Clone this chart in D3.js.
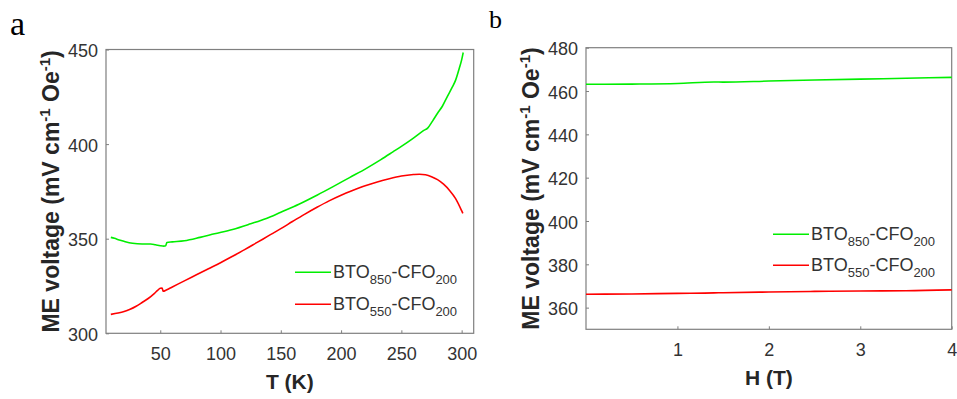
<!DOCTYPE html>
<html><head><meta charset="utf-8">
<script src="https://cdn.jsdelivr.net/npm/d3@7"></script>
<style>
body{margin:0;background:#fff;}
svg{display:block;font-family:"Liberation Sans",Arial,Helvetica,sans-serif;}
</style>
</head><body>
<svg id="chart" width="957" height="399"></svg>
<script>
// ---- Panel a data: ME voltage vs temperature ----
const tempK850 = [9,12,16,20,27,35,42,46,50,53,54.5,55.5,60,70,83,95,110,125,138,150,165,180,193,207,221,233,243,250,260,268,272,276,280,284,288,292,295,298,300,301.3];
const volt850T = [350.7,350.2,349.3,348.6,347.6,347.2,347.2,346.8,346.3,346.1,346.3,348,348.3,348.9,350.7,352.6,354.9,357.9,360.7,364,368.2,373,377.4,382.3,387.2,391.8,395.9,398.8,403.2,407,408.6,412.3,416.3,420,425,429.8,433.8,440,444.5,448.4];
const tempK550 = [9,15,20,25,30,35,40,45,48,50,51.5,52.5,55,60,70,80,90,100,110,120,130,140,150,160,170,180,190,200,210,220,230,240,250,260,265,270,275,280,285,290,295,300,301];
const volt550T = [310,310.7,311.5,312.7,314.3,316.3,318.4,321,322.8,323.8,323.9,322.2,322.9,324.5,327.7,330.9,334.1,337.3,340.7,344.2,347.9,351.6,355.3,359.2,363,366.6,370,373,375.6,378,380,381.7,383.1,383.9,384.1,383.8,382.8,381.2,378.8,375.5,371.2,364.8,363.4];
const tempTicks = [50,100,150,200,250,300];
const voltTicksA = [300,350,400,450];

// ---- Panel b data: ME voltage vs magnetic field ----
const fieldT = [0,0.5,1,1.4,1.5,2,2.5,3,3.5,4];
const volt850H = [463.1,463.2,463.5,464.2,464.1,464.6,465.1,465.5,465.9,466.3];
const volt550H = [366.2,366.3,366.6,366.8,366.9,367.2,367.5,367.7,367.8,368.2];
const fieldTicks = [1,2,3,4];
const voltTicksB = [360,380,400,420,440,460,480];

const seriesNames = [["850","200"],["550","200"]];
const seriesColors = ["#00ee00","#ff0000"];

const svg = d3.select("#chart");

function subLabel(sel, sub1, sub2){
  sel.append("tspan").text("BTO");
  sel.append("tspan").attr("font-size",13).attr("dy",6).text(sub1);
  sel.append("tspan").attr("dy",-6).text("-CFO");
  sel.append("tspan").attr("font-size",13).attr("dy",6).text(sub2);
}

function panel(cfg){
  const g = svg.append("g");
  const x = d3.scaleLinear().domain(cfg.xdom).range([cfg.left, cfg.right]);
  const y = d3.scaleLinear().domain(cfg.ydom).range([cfg.bottom, cfg.top]);

  const xa = g.append("g").attr("transform",`translate(0,${cfg.bottom})`)
    .call(d3.axisBottom(x).tickValues(cfg.xticks).tickFormat(d3.format("d")).tickSize(-3).tickPadding(14));
  xa.select(".domain").remove();
  xa.selectAll("line").attr("stroke","#7f7f7f");
  xa.selectAll("text").attr("font-size",18).attr("fill","#333").attr("font-family",null);

  const ya = g.append("g").attr("transform",`translate(${cfg.left},0)`)
    .call(d3.axisLeft(y).tickValues(cfg.yticks).tickFormat(d3.format("d")).tickSize(-3).tickPadding(8));
  ya.select(".domain").remove();
  ya.selectAll("line").attr("stroke","#7f7f7f");
  ya.selectAll("text").attr("font-size",18).attr("fill","#333").attr("font-family",null).attr("dy","0.4em");

  g.append("rect").attr("x",cfg.left).attr("y",cfg.top)
    .attr("width",cfg.right-cfg.left).attr("height",cfg.bottom-cfg.top)
    .attr("fill","none").attr("stroke","#7f7f7f").attr("stroke-width",1.2);

  const line = d3.line().x(d=>x(d[0])).y(d=>y(d[1])).curve(d3.curveMonotoneX);
  cfg.series.forEach((s,i)=>{
    g.append("path").datum(d3.zip(s.x,s.y)).attr("d",line)
      .attr("fill","none").attr("stroke",seriesColors[i]).attr("stroke-width",1.6);
  });

  seriesNames.forEach((n,i)=>{
    const ly = cfg.legY + i*cfg.legGap;
    g.append("line").attr("x1",cfg.legX).attr("x2",cfg.legX+36).attr("y1",ly).attr("y2",ly)
      .attr("stroke",seriesColors[i]).attr("stroke-width",1.6);
    const t = g.append("text").attr("x",cfg.legX+38).attr("y",ly+5.5).attr("font-size",18).attr("fill","#333");
    subLabel(t,n[0],n[1]);
  });

  g.append("text").attr("x",(cfg.left+cfg.right)/2).attr("y",cfg.bottom+56)
    .attr("text-anchor","middle").attr("font-size",21).attr("font-weight","bold").attr("fill","#262626")
    .text(cfg.xtitle);

  const yt = g.append("text")
    .attr("transform",`translate(${cfg.left-47},${(cfg.top+cfg.bottom)/2}) rotate(-90)`)
    .attr("text-anchor","middle").attr("font-size",23).attr("font-weight","bold").attr("fill","#262626");
  yt.append("tspan").text("ME voltage (mV cm");
  yt.append("tspan").attr("font-size",15).attr("dy",-9).text("-1");
  yt.append("tspan").attr("dy",9).text(" Oe");
  yt.append("tspan").attr("font-size",15).attr("dy",-9).text("-1");
  yt.append("tspan").attr("dy",9).text(")");

  svg.append("text").attr("x",cfg.letX).attr("y",cfg.letY)
    .attr("font-family","'Liberation Serif','Times New Roman',serif").attr("font-size",cfg.letSize).attr("fill","#000")
    .text(cfg.letter);
}

panel({left:106,right:473.7,top:49.5,bottom:333.3,xdom:[5,310],ydom:[300,450],
  xticks:tempTicks,yticks:voltTicksA,
  series:[{x:tempK850,y:volt850T},{x:tempK550,y:volt550T}],
  legX:295,legY:272.3,legGap:32,xtitle:"T (K)",letter:"a",letX:10,letY:35,letSize:34});

panel({left:586,right:951.7,top:47.7,bottom:329.3,xdom:[0,4],ydom:[350,480],
  xticks:fieldTicks,yticks:voltTicksB,
  series:[{x:fieldT,y:volt850H},{x:fieldT,y:volt550H}],
  legX:773,legY:234.3,legGap:31,xtitle:"H (T)",letter:"b",letX:489,letY:28,letSize:26});
</script>
</body></html>
